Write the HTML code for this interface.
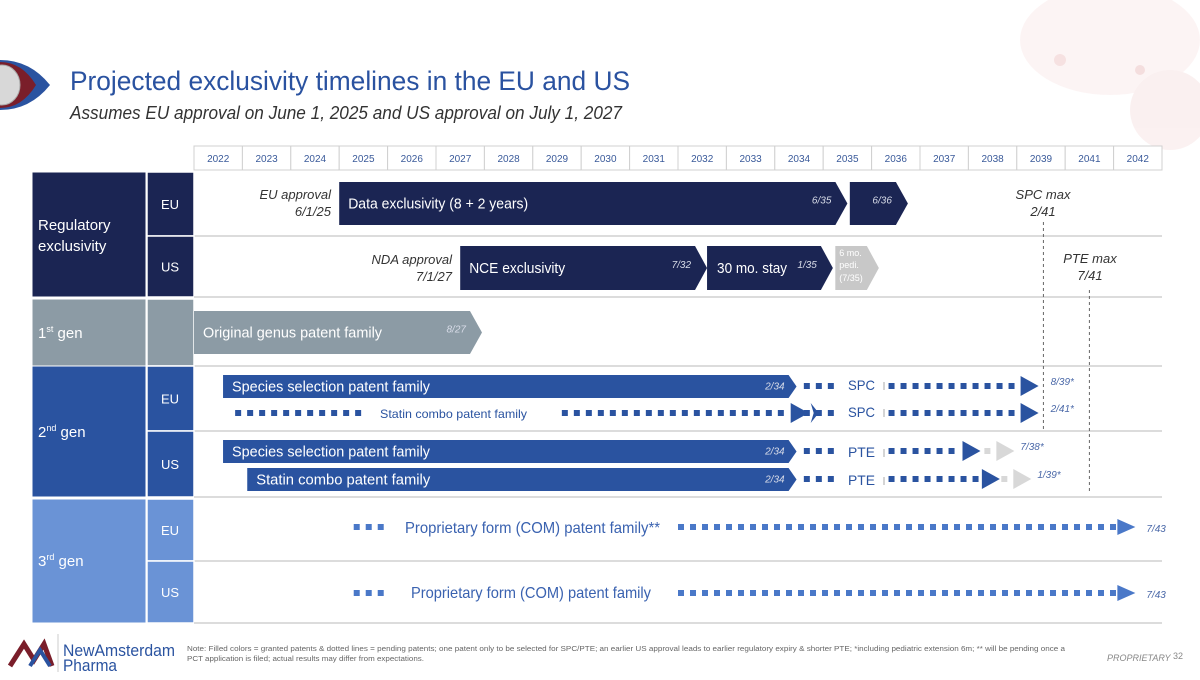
<!DOCTYPE html>
<html><head><meta charset="utf-8">
<style>
html,body{margin:0;padding:0;background:#fff;}
body{width:1200px;height:675px;overflow:hidden;position:relative;font-family:"Liberation Sans",sans-serif;}
svg text{font-family:"Liberation Sans",sans-serif;}
</style></head>
<body>
<svg id="c" width="1200" height="675" viewBox="0 0 1200 675" xmlns="http://www.w3.org/2000/svg">
  <g opacity="0.18">
    <ellipse cx="1110" cy="40" rx="90" ry="55" fill="#f2c8c8"/>
    <ellipse cx="1170" cy="110" rx="40" ry="40" fill="#e8b0b0"/>
    <circle cx="1060" cy="60" r="6" fill="#d06060"/>
    <circle cx="1140" cy="70" r="5" fill="#c85050"/>
  </g>
  <g>
    <path d="M0,60 Q30,60 50,85 Q30,110 0,110 Z" fill="#2a53a0"/>
    <path d="M0,62 Q22,62 36,85 Q22,108 0,108 Z" fill="#7a1e2a"/>
    <ellipse cx="2" cy="85" rx="18" ry="20" fill="#d8d8d8" stroke="#aaa"/>
  </g>
  <text x="70" y="90" font-size="27" fill="#2a52a0" textLength="560" lengthAdjust="spacingAndGlyphs">Projected exclusivity timelines in the EU and US</text>
  <text x="70" y="119" font-size="18" font-style="italic" fill="#333" textLength="552" lengthAdjust="spacingAndGlyphs">Assumes EU approval on June 1, 2025 and US approval on July 1, 2027</text>
  <g id="hdr"></g>
  <g id="left"></g>
  <g id="marks"></g>
  <g>
    <path d="M10,666 L24,644 L34,660 L44,644 L52,666" fill="none" stroke="#7a1e2a" stroke-width="5"/>
    <path d="M30,666 L40,650 L50,666" fill="none" stroke="#2a53a0" stroke-width="4"/>
    <line x1="58" y1="634" x2="58" y2="672" stroke="#ccc"/>
    <text x="63" y="656" font-size="17" fill="#2a53a0" textLength="112" lengthAdjust="spacingAndGlyphs">NewAmsterdam</text>
    <text x="63" y="671" font-size="17" fill="#2a53a0" textLength="54" lengthAdjust="spacingAndGlyphs">Pharma</text>
    <text x="187" y="651" font-size="7.6" fill="#666" textLength="878" lengthAdjust="spacingAndGlyphs">Note: Filled colors = granted patents &amp; dotted lines = pending patents; one patent only to be selected for SPC/PTE; an earlier US approval leads to earlier regulatory expiry &amp; shorter PTE; *including pediatric extension 6m; ** will be pending once a</text>
    <text x="187" y="661" font-size="7.6" fill="#666" textLength="237" lengthAdjust="spacingAndGlyphs">PCT application is filed; actual results may differ from expectations.</text>
    <text x="1107" y="661" font-size="9" font-style="italic" fill="#888">PROPRIETARY</text>
    <text x="1173" y="659" font-size="9" fill="#888">32</text>
  </g>
</svg>
<script>
const years = [2022,2023,2024,2025,2026,2027,2028,2029,2030,2031,2032,2033,2034,2035,2036,2037,2038,2039,2041,2042];
const barLabels = ["Data exclusivity (8 + 2 years)","","NCE exclusivity","30 mo. stay","6 mo. pedi.","Original genus patent family","Species selection patent family","Species selection patent family","Statin combo patent family"];
const barStarts = [2025.0,2035.55,2027.5,2032.6,2035.25,2022.0,2022.6,2022.6,2023.1];
const barEnds   = [2035.5,2036.75,2032.6,2035.2,2036.15,2027.95,2034.45,2034.45,2034.45];
const barEndLabels = ["6/35","6/36","7/32","1/35","","8/27","2/34","2/34","2/34"];
const dotStarts = [2034.6,2036.35,2022.85,2029.6,2034.6,2036.35,2034.6,2036.35,2034.6,2036.35,2025.3,2032.0,2025.3,2032.0];
const dotEnds   = [2035.25,2039.05,2025.45,2034.2,2035.25,2039.05,2035.25,2037.85,2035.25,2038.25,2026.0,2042.1,2026.0,2042.1];
const arrowEnds = [2039.45,2034.7,2039.45,2038.25,2038.65,2042.45,2042.45];
const arrowGrey = [2038.95,2039.3];
const endDates = ["8/39*","2/41*","7/38*","1/39*","7/43","7/43"];
const spcMax = 2039.55, pteMax = 2041.5;

const NS="http://www.w3.org/2000/svg";
const X0=194, CW=48.4;
function xOf(v){const idx = v<2040 ? v-2022 : v-2023; return X0+idx*CW;}
function mk(p,tag,a){const e=document.createElementNS(NS,tag);for(const k in a)e.setAttribute(k,a[k]);p.appendChild(e);return e;}
function txt(p,x,y,s,a){const t=mk(p,'text',Object.assign({x:x,y:y},a));t.textContent=s;return t;}
const hdr=document.getElementById('hdr'),left=document.getElementById('left'),marks=document.getElementById('marks');

years.forEach((y,i)=>{
  const c=mk(hdr,'rect',{x:X0+i*CW,y:146,width:CW,height:24,fill:'#fff',stroke:'#d0d0d0'});
  
  
  const t=txt(hdr,X0+i*CW+CW/2,162,String(y),{'font-size':'10',fill:'#3a5a9a','text-anchor':'middle'});
  
  
});

const groups=[[172,297,'#1b2553'],[299,366,'#8c9ba5'],[366,497,'#2a53a0'],[499,623,'#6a93d6']];
groups.forEach(g=>{
  const r=mk(left,'rect',{x:32,y:g[0],width:114,height:g[1]-g[0],fill:g[2],stroke:'#fff','stroke-width':1});
  
  
});
const subs=[[172,236,'#1b2553','EU'],[236,297,'#1b2553','US'],[299,366,'#8c9ba5',''],[366,431,'#2a53a0','EU'],[431,497,'#2a53a0','US'],[499,561,'#6a93d6','EU'],[561,623,'#6a93d6','US']];
subs.forEach(s=>{
  const r=mk(left,'rect',{x:147,y:s[0],width:47,height:s[1]-s[0],fill:s[2],stroke:'#fff','stroke-width':1.5});
  
  
  if(s[3]){const t=txt(left,170,(s[0]+s[1])/2+5,s[3],{'font-size':'13',fill:'#fff','text-anchor':'middle'});
  
  }
  const l=mk(left,'line',{x1:194,x2:1162,y1:s[1],y2:s[1],stroke:'#d0d0d0','stroke-width':1.5});
  
  
});
[['Regulatory',230],['exclusivity',251]].forEach(g=>{const t=txt(left,38,g[1],g[0],{'font-size':'15',fill:'#fff'});
  
  });
[['1','st',' gen',338],['2','nd',' gen',437],['3','rd',' gen',566]].forEach(g=>{
  const t=mk(left,'text',{x:38,y:g[3],'font-size':'15',fill:'#fff'});
  
  
  t.innerHTML=g[0]+'<tspan font-size="9" dy="-6">'+g[1]+'</tspan><tspan dy="6">'+g[2]+'</tspan>';
});

const barY=[[182,225],[182,225],[246,290],[246,290],[246,290],[311,354],[375,398],[440,463],[468,491]];
const barCol=['#1b2553','#1b2553','#1b2553','#1b2553','#c8c8c8','#8c9ba5','#2a53a0','#2a53a0','#2a53a0'];
const barFont=[15,15,15,15,9,15,15,15,15];
const labelLen=[180,0,96,70,0,179,198,198,174];
barStarts.forEach((s,i)=>{
  const x1=xOf(s),x2=xOf(barEnds[i]),y1=barY[i][0],y2=barY[i][1],tip=(y2-y1)>30?12:8,ym=(y1+y2)/2;
  const p=mk(marks,'path',{d:`M${x1},${y1}L${x2-tip},${y1}L${x2},${ym}L${x2-tip},${y2}L${x1},${y2}Z`,fill:barCol[i]});
  
  
  if(i===4){
    [['6 mo.',256],['pedi.',268],['(7/35)',281]].forEach(q=>{const t=txt(marks,x1+4,q[1],q[0],{'font-size':'9',fill:'#fff'});
    
    });
  } else if(barLabels[i]){
    const t=txt(marks,x1+(i===3?10:9),ym+5,barLabels[i],{'font-size':barFont[i],fill:'#fff',textLength:labelLen[i],lengthAdjust:'spacingAndGlyphs'});
    
    
  }
  if(barEndLabels[i]){const t=txt(marks,x2-tip-4,ym+(i>=6?3:0),barEndLabels[i],{'font-size':'10','font-style':'italic',fill:'#d8dce8','text-anchor':'end'});
  
  }
});

const dotY=[386,386,413,413,413,413,451,451,479,479,527,527,593,593];
dotStarts.forEach((s,i)=>{
  const col=i>=10?'#4a78c8':'#2a53a0';
  for(let x=xOf(s);x+6<=xOf(dotEnds[i])+0.5;x+=12){
    const r=mk(marks,'rect',{x:x,y:dotY[i]-3,width:6,height:6,fill:col});
    
    
  }
});
const arrowY=[386,413,413,451,479,527,593];
arrowEnds.forEach((e,i)=>{
  const x=xOf(e),col=i>=5?'#4a78c8':'#2a53a0',h=i>=5?8:10;
  const p=mk(marks,'path',{d:`M${x-18},${arrowY[i]-h}L${x},${arrowY[i]}L${x-18},${arrowY[i]+h}Z`,fill:col});
  
  
});
{const x=xOf(2034.7)+2;const p=mk(marks,'path',{d:`M${x},403L${x+8},413L${x},423L${x+3},413Z`,fill:'#2a53a0'});

}
const greyY=[451,479];
arrowGrey.forEach((e,i)=>{
  const x=xOf(e);
  const r=mk(marks,'rect',{x:x-30,y:greyY[i]-3,width:6,height:6,fill:'#d8d8d8'});
  
  
  const p=mk(marks,'path',{d:`M${x-18},${greyY[i]-10}L${x},${greyY[i]}L${x-18},${greyY[i]+10}Z`,fill:'#d8d8d8'});
  
  
});
const endX=[arrowEnds[0],arrowEnds[2],arrowGrey[0],arrowGrey[1],arrowEnds[5],arrowEnds[6]];
const endY=[386,413,451,479,527,593];
endDates.forEach((d,i)=>{
  const t=txt(marks,xOf(endX[i])+(i>=4?11:(i>=2?6:12)),endY[i]+(i>=4?5:-1),d,{'font-size':'10','font-style':'italic',fill:'#4a68a8'});
  
  
});
[['SPC',386],['SPC',413],['PTE',451],['PTE',479]].forEach(q=>{
  const t=txt(marks,848,q[1]+(q[0]==='PTE'?6:4),q[0],{'font-size':'14',fill:'#2a53a0',textLength:'27',lengthAdjust:'spacingAndGlyphs'});
  
  
  const l=mk(marks,'line',{x1:884,x2:884,y1:q[1]-4+(q[0]==='PTE'?2:0),y2:q[1]+4+(q[0]==='PTE'?2:0),stroke:'#aaa'});
  
  
});
{const t=txt(marks,380,418,'Statin combo patent family',{'font-size':'12',fill:'#2a53a0',textLength:'147',lengthAdjust:'spacingAndGlyphs'});

}
[['Proprietary form (COM) patent family**',405,533,255],['Proprietary form (COM) patent family',411,598,240]].forEach(q=>{
  const t=txt(marks,q[1],q[2],q[0],{'font-size':'16',fill:'#3a62b0',textLength:q[3],lengthAdjust:'spacingAndGlyphs'});
  
  
});
[['EU approval',331,199,'end'],['6/1/25',331,216,'end'],['NDA approval',452,264,'end'],['7/1/27',452,281,'end'],
 ['SPC max',1043,199,'middle'],['2/41',1043,216,'middle'],['PTE max',1090,263,'middle'],['7/41',1090,280,'middle']].forEach(q=>{
  const t=txt(marks,q[1],q[2],q[0],{'font-size':'13','font-style':'italic',fill:'#333','text-anchor':q[3]});
  
  
});
{const l=mk(marks,'line',{x1:xOf(spcMax),x2:xOf(spcMax),y1:222,y2:431,stroke:'#666','stroke-dasharray':'3,3'});


const l2=mk(marks,'line',{x1:xOf(pteMax),x2:xOf(pteMax),y1:290,y2:492,stroke:'#666','stroke-dasharray':'3,3'});

}
</script>
</body></html>
